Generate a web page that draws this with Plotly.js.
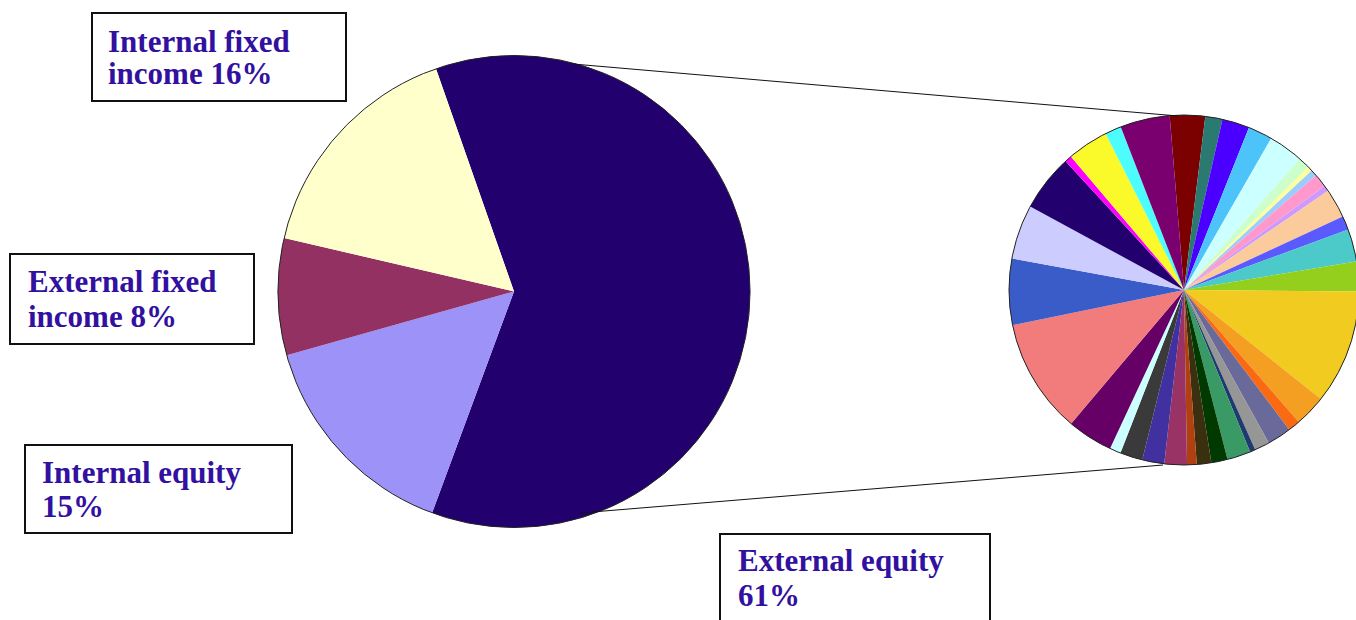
<!DOCTYPE html>
<html>
<head>
<meta charset="utf-8">
<script src="https://cdn.plot.ly/plotly-3.0.1.min.js"></script>
<style>
  html, body { margin: 0; padding: 0; overflow: hidden; background: #fff; }
  #chart { width: 1370px; height: 620px; }
</style>
</head>
<body>
<div id="chart"></div>
<script>
// Fund-wide allocation by asset class (percent)
const assetClasses = ["External equity", "Internal equity", "External fixed income", "Internal fixed income"];
const assetShares = [61, 15, 8, 16];
const assetColors = ["#22006e", "#9d92f8", "#933262", "#ffffcc"];

// External equity split across managers (relative shares, clockwise from the top)
const managerShares = [
  11.7, 5.7, 9.1, 8.1, 11.6, 3.8, 1.6, 2.1, 4.5, 1.9,
  9.8, 4.6, 10.8, 9.9, 38.0, 10.5, 4.0, 8.0, 5.0, 1.8,
  7.8, 5.4, 4.8, 3.2, 7.5, 7.3, 7.5, 3.7, 15.2, 38.2,
  22.0, 18.1, 18.9, 2.3, 13.7, 5.4, 16.5
];
const managerColors = [
  "#7b0000", "#2a7a72", "#4b00ff", "#4cc4fa", "#ccffff", "#ccffcc", "#ffff99", "#99ccff", "#ff99cc", "#cc99ff",
  "#fbcb9c", "#5a5aff", "#4cc9c9", "#94cf1e", "#f2cb20", "#f59f22", "#fa6a12", "#6a6a9a", "#969696", "#1e3a6e",
  "#3a9a66", "#013a01", "#3a3010", "#b04010", "#993366", "#4030a0", "#3a3a3a", "#ccffff", "#660066", "#f27c7c",
  "#3a5cc8", "#ccccff", "#22006e", "#ff00ff", "#fafa2a", "#4dfcfc", "#7a0070"
];
const managerNames = managerShares.map((_, i) => "Manager " + (i + 1));

// ---- geometry (pixels) ----
const W = 1370, H = 620;
const px = x => x / W;
const py = y => 1 - y / H;
const domainFor = (cx, cy, r) => ({ x: [px(cx - r), px(cx + r)], y: [py(cy + r), py(cy - r)] });

const mainPie = { cx: 514, cy: 291.5, r: 236, rotation: -19.3 };
const detailPie = { cx: 1184, cy: 290, r: 175, rotation: -4.7 };

// label boxes, in the same order as assetClasses
const labelBoxes = [
  { x0: 720, y0: 534, x1: 990, y1: 645, tx: 736, base: [571, 606] },
  { x0: 25,  y0: 445, x1: 292, y1: 533, tx: 40,  base: [483, 517] },
  { x0: 10,  y0: 254, x1: 254, y1: 344, tx: 26,  base: [292, 327] },
  { x0: 92,  y0: 13,  x1: 346, y1: 101, tx: 106, base: [52, 84] }
];

const textColor = "#3210a0";
const labelFont = { family: "'Liberation Serif', 'Times New Roman', serif", size: 31, color: textColor, weight: "bold" };

function labelLines(name, pct) {
  const words = name.split(" ");
  if (words.length > 2) {
    return [words.slice(0, 2).join(" "), words.slice(2).join(" ") + " " + pct + "%"];
  }
  return [name, pct + "%"];
}

const traces = [
  {
    type: "pie",
    labels: assetClasses,
    values: assetShares,
    marker: { colors: assetColors, line: { width: 0 } },
    sort: false,
    direction: "clockwise",
    rotation: mainPie.rotation,
    textinfo: "none",
    hoverinfo: "label+percent",
    showlegend: false,
    domain: domainFor(mainPie.cx, mainPie.cy, mainPie.r)
  },
  {
    type: "pie",
    labels: ["outline"],
    values: [1],
    marker: { colors: ["rgba(0,0,0,0)"], line: { width: 1, color: "#222" } },
    textinfo: "none",
    hoverinfo: "skip",
    showlegend: false,
    domain: domainFor(mainPie.cx, mainPie.cy, mainPie.r)
  },
  {
    type: "pie",
    labels: managerNames,
    values: managerShares,
    marker: { colors: managerColors, line: { width: 0 } },
    sort: false,
    direction: "clockwise",
    rotation: detailPie.rotation,
    textinfo: "none",
    hoverinfo: "label+percent",
    showlegend: false,
    domain: domainFor(detailPie.cx, detailPie.cy, detailPie.r)
  },
  {
    type: "pie",
    labels: ["outline"],
    values: [1],
    marker: { colors: ["rgba(0,0,0,0)"], line: { width: 1, color: "#222" } },
    textinfo: "none",
    hoverinfo: "skip",
    showlegend: false,
    domain: domainFor(detailPie.cx, detailPie.cy, detailPie.r)
  }
];

const shapes = [];
const annotations = [];

// connector lines from the external-equity slice to the breakdown pie
[[573, 64, 1178, 116], [580, 513, 1163, 465]].forEach(([x0, y0, x1, y1]) => {
  shapes.push({
    type: "line", xref: "paper", yref: "paper",
    x0: px(x0), y0: py(y0), x1: px(x1), y1: py(y1),
    line: { color: "#111", width: 1 }
  });
});

assetClasses.forEach((name, i) => {
  const b = labelBoxes[i];
  shapes.push({
    type: "rect", xref: "paper", yref: "paper",
    x0: px(b.x0), y0: py(b.y1), x1: px(b.x1), y1: py(b.y0),
    line: { color: "#111", width: 2 }, fillcolor: "#ffffff", layer: "below"
  });
  labelLines(name, assetShares[i]).forEach((line, k) => {
    annotations.push({
      xref: "paper", yref: "paper",
      x: px(b.tx), y: py(b.base[k] - 10.5),
      xanchor: "left", yanchor: "middle",
      text: line, showarrow: false, font: labelFont
    });
  });
});

const layout = {
  width: W, height: H,
  margin: { l: 0, r: 0, t: 0, b: 0 },
  paper_bgcolor: "#ffffff",
  plot_bgcolor: "#ffffff",
  shapes: shapes,
  annotations: annotations
};

Plotly.newPlot("chart", traces, layout, { displayModeBar: false, staticPlot: true });
</script>
</body>
</html>
